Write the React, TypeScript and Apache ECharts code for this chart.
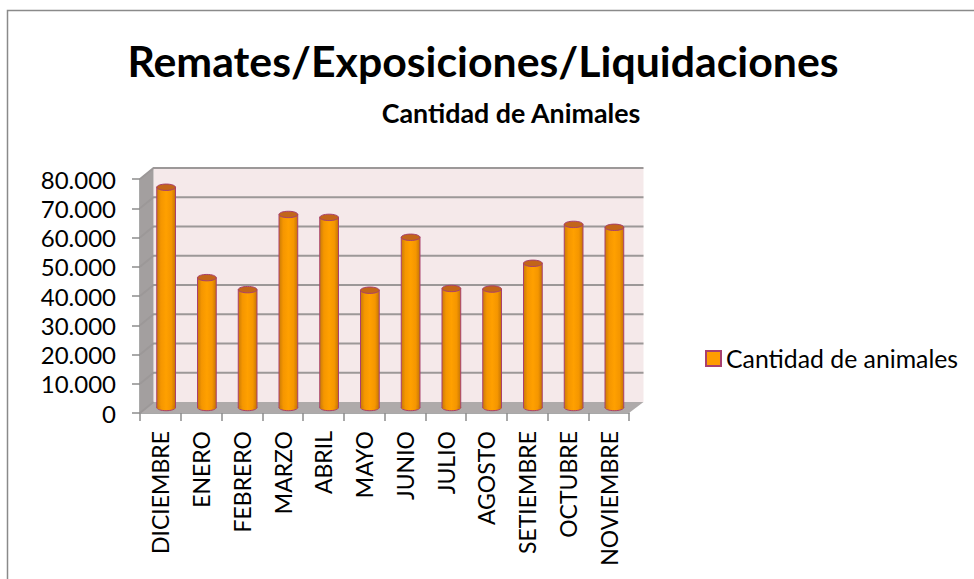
import React, { useEffect, useRef } from "react";
import * as echarts from "echarts";

const categories = ["DICIEMBRE","ENERO","FEBRERO","MARZO","ABRIL","MAYO","JUNIO","JULIO","AGOSTO","SETIEMBRE","OCTUBRE","NOVIEMBRE"];
const animales = [75300,44400,40300,66000,65000,40100,58200,40700,40500,49300,62600,61600];
const yTicks = [0,10000,20000,30000,40000,50000,60000,70000,80000];
const seriesName = "Cantidad de animales";
const titleText = "Remates/Exposiciones/Liquidaciones";
const subtitleText = "Cantidad de Animales";

const DX = 13.5;
const DY = 11;

export default function App() {
  const ref = useRef<HTMLDivElement>(null);
  useEffect(() => {
    const chart = echarts.init(ref.current!, undefined, { renderer: "svg" });
    chart.setOption({
      animation: false,
      backgroundColor: "#ffffff",
      title: [
        { text: titleText, left: 478, top: 34, textAlign: "center", textStyle: { fontFamily: "Lato", fontWeight: "bold", fontSize: 42.8, color: "#000" } },
        { text: subtitleText, left: 506, top: 94, textAlign: "center", textStyle: { fontFamily: "Lato", fontWeight: "bold", fontSize: 26.8, color: "#000" } },
      ],
      legend: {
        data: [seriesName],
        left: 700, top: 341,
        itemWidth: 15, itemHeight: 15, itemGap: 4,
        icon: "rect",
        textStyle: { fontFamily: "Lato", fontSize: 24.8, color: "#000" },
      },
      grid: { left: 140, top: 179, width: 489, height: 234 },
      xAxis: {
        type: "category",
        data: categories,
        boundaryGap: true,
        axisLine: { lineStyle: { color: "#8c8c8c", width: 1.5 } },
        axisTick: { show: true, length: 8, alignWithLabel: false, lineStyle: { color: "#8c8c8c", width: 1.5 } },
        axisLabel: { rotate: 90, interval: 0, margin: 18, fontFamily: "Lato", fontSize: 23, color: "#000" },
      },
      yAxis: {
        type: "value",
        min: 0, max: 80000, interval: 10000,
        splitLine: { show: false },
        axisLine: { show: true, lineStyle: { color: "#8c8c8c", width: 1.5 } },
        axisTick: { show: true, length: 8, lineStyle: { color: "#8c8c8c", width: 1.5 } },
        axisLabel: {
          margin: 24, fontFamily: "Lato", fontSize: 24, color: "#000",
          formatter: (v: number) => String(v).replace(/\B(?=(\d{3})+$)/g, "."),
        },
      },
      series: [
        {
          type: "custom",
          name: "walls",
          silent: true,
          z: 1,
          data: [0],
          renderItem: (params: any, api: any) => {
            const c = params.coordSys;
            const l = c.x, r = c.x + c.width, t = c.y, b = c.y + c.height;
            return {
              type: "group",
              children: [
                { type: "polygon", shape: { points: [[l+DX,t-DY],[r+DX+1,t-DY],[r+DX+1,b-DY],[l+DX,b-DY]] }, style: { fill: "#f5e9ea" } },
                { type: "polygon", shape: { points: [[l,t],[l+DX,t-DY],[l+DX,b-DY],[l,b]] }, style: { fill: "#a39f9f" } },
                { type: "polygon", shape: { points: [[l,b],[l+DX,b-DY],[r+DX+1,b-DY],[r,b]] }, style: { fill: "#aeaaaa" } },
              ],
            };
          },
        },
        {
          type: "custom",
          name: "grid",
          silent: true,
          z: 2,
          data: yTicks.map((v) => [0, v]),
          renderItem: (params: any, api: any) => {
            const c = params.coordSys;
            const y = api.coord([0, api.value(1)])[1];
            const l = c.x, r = c.x + c.width;
            const st = { stroke: "#9c9898", lineWidth: 1.8, fill: "none" };
            if (api.value(1) === 0) {
              return { type: "line", shape: { x1: l, y1: y, x2: l + DX, y2: y - DY }, style: st };
            }
            return {
              type: "polyline",
              shape: { points: [[l, y], [l + DX, y - DY], [r + DX + 1, y - DY]] },
              style: st,
            };
          },
        },
        {
          type: "custom",
          name: seriesName,
          z: 3,
          data: animales.map((v, i) => [i, v]),
          itemStyle: { color: "#ff9c00", borderColor: "#a8406e", borderWidth: 1 },
          encode: { x: 0, y: 1 },
          renderItem: (params: any, api: any) => {
            const top = api.coord([api.value(0), api.value(1)]);
            const base = api.coord([api.value(0), 0]);
            const w = api.size([1, 0])[0] * 0.46;
            const cx = top[0] + DX / 2 - 1;
            const yt = top[1] - DY / 2;
            const yb = base[1] - DY / 2;
            const rx = w / 2;
            const ry = 3.2;
            const gradient = new echarts.graphic.LinearGradient(0, 0, 1, 0, [
              { offset: 0, color: "#c97a08" },
              { offset: 0.22, color: "#f59600" },
              { offset: 0.5, color: "#ffa000" },
              { offset: 0.78, color: "#f59600" },
              { offset: 1, color: "#c47406" },
            ]);
            return {
              type: "group",
              children: [
                { type: "ellipse", shape: { cx, cy: yb, rx, ry }, style: { fill: gradient, stroke: "#a8406e", lineWidth: 1 } },
                { type: "rect", shape: { x: cx - rx, y: yt, width: w, height: yb - yt }, style: { fill: gradient, stroke: "#a8406e", lineWidth: 1 } },
                { type: "rect", shape: { x: cx - rx + 0.6, y: yb - 2, width: w - 1.2, height: 3.5 }, style: { fill: gradient } },
                { type: "ellipse", shape: { cx, cy: yt, rx, ry }, style: { fill: "#c2651a", stroke: "#a8406e", lineWidth: 1 } },
              ],
            };
          },
        },
      ],
      graphic: [
        { type: "polyline", silent: true, shape: { points: [[7.5, 579], [7.5, 10.5], [974, 10.5]] }, style: { stroke: "#8a8a8a", lineWidth: 1.5, fill: "none" } },
      ],
    });
    return () => chart.dispose();
  }, []);
  return <div ref={ref} style={{ position: "fixed", left: 0, top: 0, width: 974, height: 579 }} />;
}
